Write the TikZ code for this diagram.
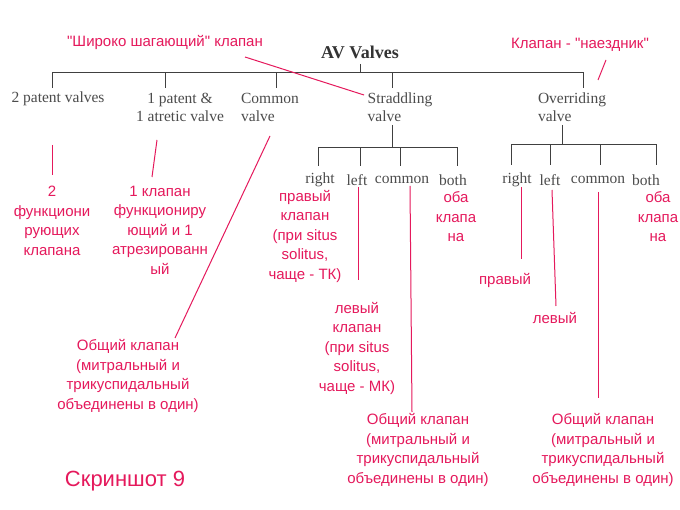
\documentclass[tikz,border=0pt]{standalone}
\usepackage{fontspec}
\setmainfont{Liberation Sans}
\newfontfamily\serf{Liberation Serif}
\definecolor{pk}{HTML}{E5195C}
\begin{document}
\begin{tikzpicture}[x=1pt,y=-1pt,
 tr/.style={draw=black!75,line width=1pt},
 bl/.style={font=\serf\fontsize{15.5}{18}\selectfont,text=black!70,inner sep=0,align=center},
 rd/.style={draw=pk,line width=1pt},
 rt/.style={font=\fontsize{15}{19.5}\selectfont,text=pk,inner sep=0,align=center}]
\useasboundingbox (0,0) rectangle (680,510);
\fill[white] (0,0) rectangle (680,510);
\node[bl,font=\serf\bfseries\fontsize{18}{18}\selectfont,text=black!80] (av) at (360,52) {AV Valves};
\draw[tr] (360,64) -- (360,73);
\draw[tr] (52,88) -- (52,73) -- (583,73) -- (583,88);
\foreach \x in {165,276,392} \draw[tr] (\x,73) -- (\x,88);
\node[bl] (p2) at (58,99) {2 patent valves};
\node[bl] (p1) at (180,107) {1 patent \&\\1 atretic valve};
\node[bl,align=left] (cv) at (270,107) {Common\\valve};
\node[bl,align=left] (sv) at (400,107) {Straddling\\valve};
\node[bl,align=left] (ov) at (572,107) {Overriding\\valve};
% straddling subtree
\draw[tr] (392,125) -- (392,148);
\draw[tr] (318,166) -- (318,148) -- (457,148) -- (457,166);
\foreach \x in {360,400} \draw[tr] (\x,148) -- (\x,166);
\node[bl] (sr) at (320,180) {right};
\node[bl] (sl) at (357,180) {left};
\node[bl] (sc) at (402,180) {common};
\node[bl] (sb) at (453,180) {both};
% overriding subtree
\draw[tr] (562,125) -- (562,145);
\draw[tr] (511,165) -- (511,145) -- (656,145) -- (656,165);
\foreach \x in {550,600} \draw[tr] (\x,145) -- (\x,165);
\node[bl] (or) at (517,180) {right};
\node[bl] (ol) at (550,180) {left};
\node[bl] (oc) at (598,180) {common};
\node[bl] (ob) at (646,180) {both};
% red annotations
\node[rt] (shir) at (165,42) {\textquotedbl Широко шагающий\textquotedbl{} клапан};
\node[rt] (naez) at (580,45) {Клапан - \textquotedbl наездник\textquotedbl};
\coordinate (a1) at (245,57); \coordinate (a2) at (364,95);
\draw[rd] (a1) -- (a2);
\coordinate (b1) at (606,60); \coordinate (b2) at (598,80);
\draw[rd] (b1) -- (b2);
\node[rt] (t2) at (52,221) {2\\функциони\\рующих\\клапана};
\coordinate (c1) at (52,145); \coordinate (c2) at (52,175);
\draw[rd] (c1) -- (c2);
\node[rt] (t1) at (160,230) {1 клапан\\функциониру\\ющий и 1\\атрезированн\\ый};
\coordinate (d1) at (157,140); \coordinate (d2) at (152,177);
\draw[rd] (d1) -- (d2);
\node[rt] (tc) at (128,376) {Общий клапан\\(митральный и\\трикуспидальный\\объединены в один)};
\coordinate (e1) at (270,136); \coordinate (e2) at (175,338);
\draw[rd] (e1) -- (e2);
\node[rt] (tsr) at (305,236) {правый\\клапан\\(при situs\\solitus,\\чаще - ТК)};
\node[rt] (tsl) at (357,348) {левый\\клапан\\(при situs\\solitus,\\чаще - МК)};
\coordinate (f1) at (358,187); \coordinate (f2) at (358,280);
\draw[rd] (f1) -- (f2);
\node[rt] (tsc) at (418,450) {Общий клапан\\(митральный и\\трикуспидальный\\объединены в один)};
\coordinate (g1) at (410,186); \coordinate (g2) at (412,412);
\draw[rd] (g1) -- (g2);
\node[rt] (tsb) at (456,217) {оба\\клапа\\на};
\node[rt] (tor) at (505,280) {правый};
\coordinate (h1) at (521,187); \coordinate (h2) at (521,259);
\draw[rd] (h1) -- (h2);
\node[rt] (tol) at (555,318) {левый};
\coordinate (i1) at (552,190); \coordinate (i2) at (556,306);
\draw[rd] (i1) -- (i2);
\node[rt] (toc) at (603,450) {Общий клапан\\(митральный и\\трикуспидальный\\объединены в один)};
\coordinate (j1) at (598,192); \coordinate (j2) at (598,398);
\draw[rd] (j1) -- (j2);
\node[rt] (tob) at (658,217) {оба\\клапа\\на};
\node[rt,font=\fontsize{22}{24}\selectfont] (scr) at (125,481) {Скриншот 9};
\end{tikzpicture}
\end{document}
